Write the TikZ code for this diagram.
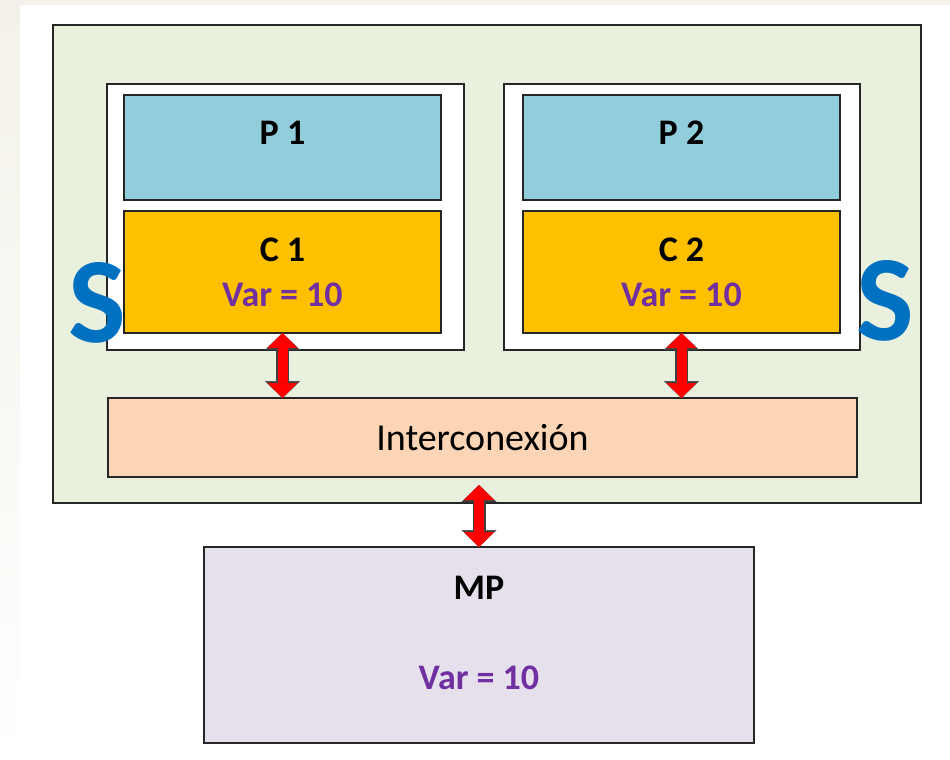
\documentclass[tikz,border=0pt]{standalone}
\usepackage{fontspec}
\setmainfont{Carlito}
\usetikzlibrary{arrows.meta}

\definecolor{fondo}{HTML}{EEEBDF}
\definecolor{verdesmp}{HTML}{EAF0DE}
\definecolor{azulproc}{HTML}{92CDDC}
\definecolor{orocache}{HTML}{FFC000}
\definecolor{salmon}{HTML}{FBD5B5}
\definecolor{lavanda}{HTML}{E5E0EC}
\definecolor{morado}{HTML}{7030A0}
\definecolor{azuls}{HTML}{0070C0}

\begin{document}
\begin{tikzpicture}[x=1pt, y=-1pt, line width=1.5pt,
    box/.style 2 args={draw=black!85, inner sep=0pt, outer sep=0pt,
      minimum width=#1pt, minimum height=#2pt},
    rotulo/.style={font=\fontsize{36}{45}\selectfont\bfseries, align=center},
    valor/.style={font=\fontsize{36}{45}\selectfont\bfseries, text=morado},
    letra/.style={font=\fontsize{122}{122}\selectfont\bfseries, text=azuls, inner sep=0pt},
    link/.style={draw=red, line width=10pt,
      {Triangle[width=30pt,length=15pt,line width=0.5pt]}-{Triangle[width=30pt,length=15pt,line width=0.5pt]},
      preaction={draw=black!75, line width=13pt,
        {Triangle[width=35pt,length=17pt,line width=0.5pt]}-{Triangle[width=35pt,length=17pt,line width=0.5pt]}}}]
  % fondo de la diapositiva
  \useasboundingbox (0,0) rectangle (950,760);
  \fill[top color=fondo!70, bottom color=fondo!120!black!5] (0,0) rectangle (950,760);
  \fill[white] (20,5) rectangle (950,760);

  % multiprocesador
  \node[box={868}{478}, fill=verdesmp] (smp) at (487,264) {};
  \node[box={357}{266}, fill=white] (nodo1) at (285.5,217) {};
  \node[box={356}{266}, fill=white] (nodo2) at (682,217) {};

  \node[box={317}{105}, fill=azulproc] (p1) at (282.5,147.5) {};
  \node[box={317}{105}, fill=azulproc] (p2) at (681.5,147.5) {};
  \node[rotulo] (p1t) at (282.5,133) {P 1};
  \node[rotulo] (p2t) at (681.5,133) {P 2};

  \node[box={317}{122}, fill=orocache, rotulo] (c1) at (282.5,272)
    {C 1\\{\color{morado}Var = 10}};
  \node[box={317}{122}, fill=orocache, rotulo] (c2) at (681.5,272)
    {C 2\\{\color{morado}Var = 10}};

  \node[letra] (s1) at (97,303) {S};
  \node[letra] (s2) at (885,301) {S};

  \node[box={749}{79}, fill=salmon, font=\fontsize{38}{45}\selectfont] (red) at (482.5,437.5) {Interconexión};

  % memoria principal
  \node[box={550}{196}, fill=lavanda] (mp) at (479,645) {};
  \node[rotulo] (mpt) at (479,588) {MP};
  \node[valor] (mpv) at (479,678) {Var = 10};

  % enlaces
  \draw[link] (c1.south) -- (c1.south |- red.north);
  \draw[link] (c2.south) -- (c2.south |- red.north);
  \draw[link] ([yshift=-8pt]red.south -| mp.north) -- (mp.north);
\end{tikzpicture}
\end{document}
